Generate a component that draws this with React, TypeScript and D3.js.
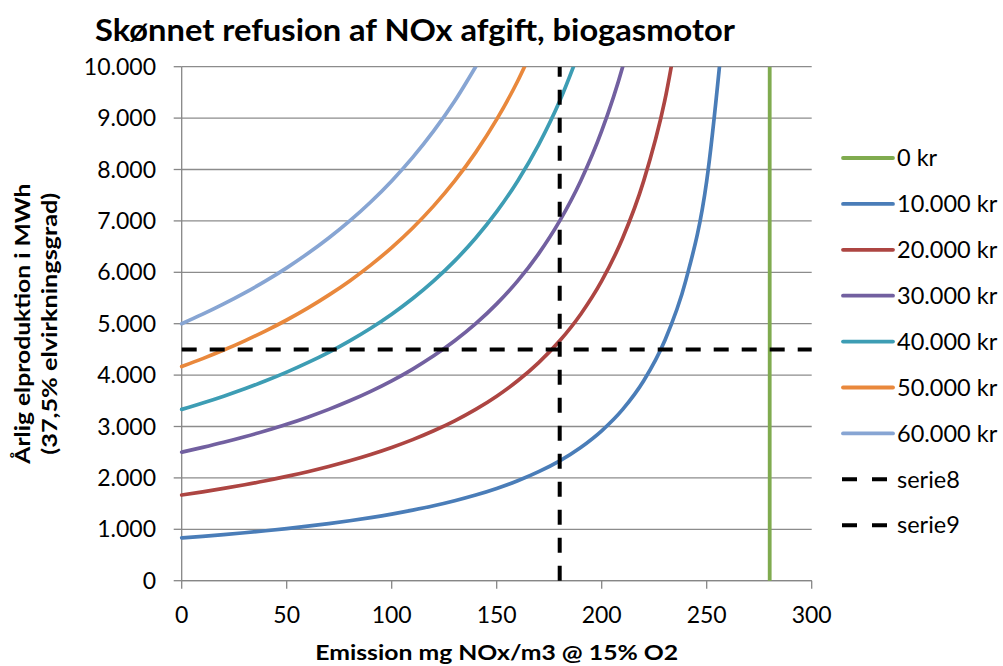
import React from "react";
import * as d3 from "d3";

const W = 1003;
const H = 666;

// Emission steps (mg NOx/m3 @ 15% O2)
const xSteps = [0, 10, 20, 30, 40, 50, 60, 70, 80, 90, 100, 110, 120, 130, 140, 150, 160, 170, 180, 190, 200, 210, 220, 230, 240, 250, 260];

const kr10000 = [833, 864, 897, 933, 972, 1014, 1061, 1111, 1167, 1228, 1296, 1373, 1458, 1556, 1667, 1795, 1944, 2121, 2333, 2593, 2917, 3333, 3889, 4667, 5833, 7778, 11667];
const kr20000 = [1667, 1728, 1795, 1867, 1944, 2029, 2121, 2222, 2333, 2456, 2593, 2745, 2917, 3111, 3333, 3590, 3889, 4242, 4667, 5185, 5833, 6667, 7778, 9333, 11667];
const kr30000 = [2500, 2593, 2692, 2800, 2917, 3043, 3182, 3333, 3500, 3684, 3889, 4118, 4375, 4667, 5000, 5385, 5833, 6364, 7000, 7778, 8750, 10000, 11667];
const kr40000 = [3333, 3457, 3590, 3733, 3889, 4058, 4242, 4444, 4667, 4912, 5185, 5490, 5833, 6222, 6667, 7179, 7778, 8485, 9333, 10370];
const kr50000 = [4167, 4321, 4487, 4667, 4861, 5072, 5303, 5556, 5833, 6140, 6481, 6863, 7292, 7778, 8333, 8974, 9722, 10606];
const kr60000 = [5000, 5185, 5385, 5600, 5833, 6087, 6364, 6667, 7000, 7368, 7778, 8235, 8750, 9333, 10000];

// Straight reference series
const kr0X = [280, 280];
const kr0Y = [0, 10000];
const serie8X = [180, 180];
const serie8Y = [0, 10000];
const serie9X = [0, 300];
const serie9Y = [4500, 4500];

const xTicks = [0, 50, 100, 150, 200, 250, 300];
const yTicks = [0, 1000, 2000, 3000, 4000, 5000, 6000, 7000, 8000, 9000, 10000];

const legendLabels = ["0 kr", "10.000 kr", "20.000 kr", "30.000 kr", "40.000 kr", "50.000 kr", "60.000 kr", "serie8", "serie9"];
const colors = ["#80ab4f", "#4a7db8", "#ad4542", "#7260a0", "#3d9db4", "#e9883c", "#87a5d3", "#000000", "#000000"];

const FONT = "Lato, 'Open Sans', 'Liberation Sans', sans-serif";

const plot = { left: 181.7, right: 811.7, top: 66.7, bottom: 580.7 };

const locale = d3.formatLocale({ decimal: ",", thousands: ".", grouping: [3], currency: ["", ""] });
const fmt = locale.format(",d");

export default function App() {
  const x = d3.scaleLinear().domain([0, 300]).range([plot.left, plot.right]);
  const y = d3.scaleLinear().domain([0, 10000]).range([plot.bottom, plot.top]);

  const smooth = d3
    .line<[number, number]>()
    .x((d) => x(d[0]))
    .y((d) => y(d[1]))
    .curve(d3.curveMonotoneX);
  const straight = d3
    .line<[number, number]>()
    .x((d) => x(d[0]))
    .y((d) => y(d[1]));

  const curves = [kr10000, kr20000, kr30000, kr40000, kr50000, kr60000].map((vals) =>
    vals.map((v, i) => [xSteps[i], v] as [number, number])
  );
  const pair = (xs: number[], ys: number[]) => xs.map((v, i) => [v, ys[i]] as [number, number]);

  const legendTop = 158;
  const legendStep = 45.9;

  return (
    <svg
      width={W}
      height={H}
      viewBox={`0 0 ${W} ${H}`}
      style={{ position: "absolute", left: 0, top: 0, background: "#fff" }}
      fontFamily={FONT}
    >
      <defs>
        <clipPath id="plotClip">
          <rect x={plot.left - 3} y={plot.top} width={plot.right - plot.left + 6} height={plot.bottom - plot.top + 3} />
        </clipPath>
      </defs>

      {/* Title */}
      <text x={95} y={41} fontSize={29.5} fontWeight="bold" fill="#000" textLength={640} lengthAdjust="spacingAndGlyphs">
        Skønnet refusion af NOx afgift, biogasmotor
      </text>

      {/* Grid lines */}
      {yTicks.map((t) => (
        <line key={"g" + t} x1={plot.left} x2={plot.right} y1={y(t)} y2={y(t)} stroke="#8c8c8c" strokeWidth={1.3} />
      ))}

      {/* Y axis */}
      <line x1={plot.left} x2={plot.left} y1={plot.top} y2={plot.bottom} stroke="#868686" strokeWidth={1.3} />
      {yTicks.map((t) => (
        <g key={"yt" + t}>
          <line x1={plot.left - 8} x2={plot.left} y1={y(t)} y2={y(t)} stroke="#868686" strokeWidth={1.3} />
          <text x={156} y={y(t)} dy="0.35em" textAnchor="end" fontSize={23} fill="#000">
            {fmt(t)}
          </text>
        </g>
      ))}

      {/* X axis */}
      <line x1={plot.left} x2={plot.right} y1={plot.bottom} y2={plot.bottom} stroke="#868686" strokeWidth={1.3} />
      {xTicks.map((t) => (
        <g key={"xt" + t}>
          <line x1={x(t)} x2={x(t)} y1={plot.bottom} y2={plot.bottom + 8} stroke="#868686" strokeWidth={1.3} />
          <text x={x(t)} y={623} textAnchor="middle" fontSize={23} fill="#000">
            {t}
          </text>
        </g>
      ))}

      {/* Series */}
      <g clipPath="url(#plotClip)">
        <path d={straight(pair(kr0X, kr0Y)) || ""} fill="none" stroke={colors[0]} strokeWidth={3.8} />
        {curves.map((c, i) => (
          <path
            key={"c" + i}
            d={smooth(c) || ""}
            fill="none"
            stroke={colors[i + 1]}
            strokeWidth={3.7}
            strokeLinejoin="round"
            strokeLinecap="round"
          />
        ))}
        <path d={straight(pair(serie8X, serie8Y)) || ""} fill="none" stroke="#000" strokeWidth={4} strokeDasharray="15 13" />
      </g>
      <path d={straight(pair(serie9X, serie9Y)) || ""} fill="none" stroke="#000" strokeWidth={4} strokeDasharray="15 13" />

      {/* Axis titles */}
      <text x={496.7} y={660} textAnchor="middle" fontSize={21.5} fontWeight="bold" fill="#000" textLength={363} lengthAdjust="spacingAndGlyphs">
        Emission mg NOx/m3 @ 15% O2
      </text>
      <g transform={`translate(30, 323.7) rotate(-90)`}>
        <text x={0} y={0} textAnchor="middle" fontSize={21.5} fontWeight="bold" fill="#000" textLength={280} lengthAdjust="spacingAndGlyphs">
          Årlig elproduktion i MWh
        </text>
      </g>
      <g transform={`translate(57, 323.7) rotate(-90)`}>
        <text x={0} y={0} textAnchor="middle" fontSize={21.5} fontWeight="bold" fill="#000" textLength={262} lengthAdjust="spacingAndGlyphs">
          (37,5% elvirkningsgrad)
        </text>
      </g>

      {/* Legend */}
      {legendLabels.map((lab, i) => {
        const ly = legendTop + i * legendStep;
        const dashed = i >= 7;
        return (
          <g key={"l" + i}>
            {dashed ? (
              <line x1={842} x2={887} y1={ly} y2={ly} stroke="#000" strokeWidth={4} strokeDasharray="15 15" />
            ) : (
              <line x1={843} x2={893} y1={ly} y2={ly} stroke={colors[i]} strokeWidth={3.8} strokeLinecap="round" />
            )}
            <text x={897} y={ly} dy="0.35em" fontSize={23.5} fill="#000">
              {lab}
            </text>
          </g>
        );
      })}
    </svg>
  );
}
